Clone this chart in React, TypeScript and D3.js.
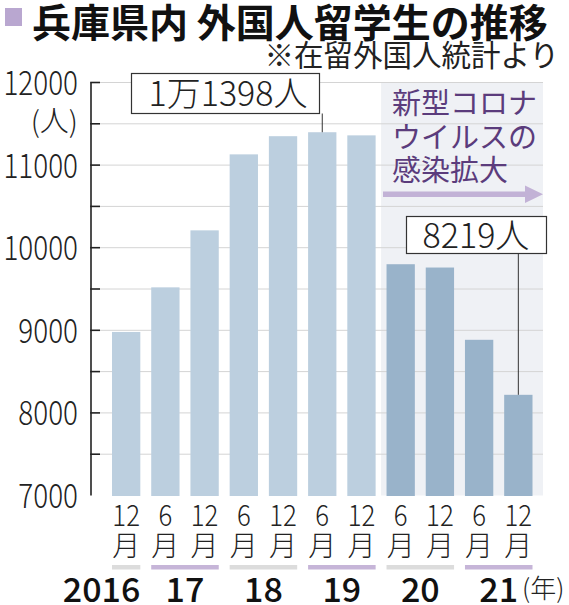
import { useEffect } from "react"
import * as d3 from "d3"

// 在留外国人統計（兵庫県内の留学生数）
const periods = ["2016-12", "2017-06", "2017-12", "2018-06", "2018-12", "2019-06", "2019-12", "2020-06", "2020-12", "2021-06", "2021-12"]
const monthLabels = ["12", "6", "12", "6", "12", "6", "12", "6", "12", "6", "12"]
const students = [8980, 9520, 10210, 11130, 11350, 11398, 11360, 9800, 9760, 8885, 8219]
const covidFrom = 7 // index of first period after the outbreak

const yearGroups = [
  { label: "2016", from: 0, to: 0 },
  { label: "17", from: 1, to: 2 },
  { label: "18", from: 3, to: 4 },
  { label: "19", from: 5, to: 6 },
  { label: "20", from: 7, to: 8 },
  { label: "21", from: 9, to: 10 },
]
const yTicks = [7000, 8000, 9000, 10000, 11000, 12000]
const gridTicks = [7500, 8000, 8500, 9000, 9500, 10000, 10500, 11000, 11500, 12000]

const W = 569
const H = 605
const FONT = "'Noto Sans CJK JP', 'Noto Sans', sans-serif"

const App = () => {
  useEffect(() => {
    document.body.style.margin = "0"
  }, [])

  const x = d3
    .scaleBand<number>()
    .domain(d3.range(periods.length))
    .range([112, 532.5])
    .paddingInner(0.278)
    .paddingOuter(0)
  const y = d3.scaleLinear().domain([7000, 12000]).range([495.5, 82.5])

  const bw = x.bandwidth()
  const gap = x.step() - bw
  const shadeX = (x(covidFrom) as number) - gap / 2
  const cx = (i: number) => (x(i) as number) + bw / 2

  const peakIdx = d3.maxIndex(students)
  const lastIdx = students.length - 1

  return (
    <svg width={W} height={H} style={{ display: "block", position: "absolute", left: 0, top: 0, fontFamily: FONT }}>
      <rect width={W} height={H} fill="#fff" />

      {/* title */}
      <rect x={5} y={8} width={17} height={18} fill="#b9a7d0" />
      <text x={32} y={37} fontSize={39} fontWeight={700} fill="#111">
        兵庫県内 外国人留学生の推移
      </text>
      <text x={559} y={66} fontSize={29.5} textAnchor="end" fill="#222">
        ※在留外国人統計より
      </text>

      {/* covid shading */}
      <rect x={shadeX} y={y(12000)} width={543 - shadeX} height={y(7000) - y(12000)} fill="#eff1f5" />

      {/* grid */}
      {gridTicks.map((t) => (
        <line key={t} x1={100} x2={543} y1={y(t)} y2={y(t)} stroke="#d4d4d4" strokeWidth={1} />
      ))}

      {/* bars */}
      {students.map((v, i) => (
        <rect
          key={periods[i]}
          x={x(i)}
          y={y(v)}
          width={bw}
          height={y(7000) - y(v) + 0.5}
          fill={i >= covidFrom ? "#99b3ca" : "#bccfdf"}
        />
      ))}

      {/* y axis */}
      <line x1={91} x2={91} y1={y(12000)} y2={y(7000)} stroke="#222" strokeWidth={1.6} />
      {gridTicks.map((t) => (
        <line key={t} x1={90.2} x2={100} y1={y(t)} y2={y(t)} stroke="#222" strokeWidth={1.6} />
      ))}
      {yTicks.map((t) => (
        <text
          key={t}
          transform={`translate(78,${y(t) + 12.5}) scale(0.82,1)`}
          textAnchor="end"
          fontSize={34}
          fontWeight={300}
          fill="#222"
        >
          {t}
        </text>
      ))}
      <text x={78} y={132} textAnchor="end" fontSize={29} fontWeight={300} fill="#222">
        (人)
      </text>

      {/* callouts */}
      <line x1={cx(peakIdx)} x2={cx(peakIdx)} y1={113.5} y2={y(students[peakIdx])} stroke="#333" strokeWidth={1} />
      <rect x={131.5} y={73.5} width={188} height={40} fill="#fff" stroke="#333" strokeWidth={1.2} />
      <text x={228} y={106} textAnchor="middle" fontSize={34} fontWeight={300} fill="#222">
        1万1398人
      </text>

      <line x1={cx(lastIdx)} x2={cx(lastIdx)} y1={253} y2={y(students[lastIdx])} stroke="#333" strokeWidth={1} />
      <rect x={406.5} y={216.5} width={140} height={37} fill="#fff" stroke="#333" strokeWidth={1.2} />
      <text x={476} y={248} textAnchor="middle" fontSize={34} fontWeight={300} fill="#222">
        8219人
      </text>

      {/* covid note */}
      <g fill="#5b3c7c" fontSize={29}>
        <text x={392} y={114}>新型コロナ</text>
        <text x={392} y={148}>ウイルスの</text>
        <text x={392} y={181}>感染拡大</text>
      </g>
      <rect x={383} y={191.5} width={144} height={5.5} fill="#c2b2d6" />
      <path d="M525,185.5 L543,194.2 L525,203 Z" fill="#c2b2d6" />

      {/* x labels */}
      {monthLabels.map((m, i) => (
        <g key={periods[i]} fill="#222" fontWeight={300}>
          <text transform={`translate(${cx(i)},526) scale(0.86,1)`} textAnchor="middle" fontSize={30}>
            {m}
          </text>
          <text x={cx(i)} y={556} textAnchor="middle" fontSize={28}>
            月
          </text>
        </g>
      ))}

      {/* year bands */}
      {yearGroups.map((g, k) => (
        <rect
          key={g.label}
          x={x(g.from)}
          y={565}
          width={(x(g.to) as number) + bw - (x(g.from) as number)}
          height={4.5}
          fill={k % 2 === 0 ? "#dcdcdc" : "#c6b5d8"}
        />
      ))}
      {yearGroups.map((g) => {
        const first = g.from === 0
        const xPos = first ? (x(g.to) as number) + bw : ((x(g.from) as number) + (x(g.to) as number) + bw) / 2
        return (
          <text key={g.label} x={xPos} y={602} textAnchor={first ? "end" : "middle"} fontSize={34} fontWeight={500} fill="#111">
            {g.label}
          </text>
        )
      })}
      <text x={522} y={598} fontSize={26} fontWeight={300} fill="#222">
        (年)
      </text>
    </svg>
  )
}

export default App
